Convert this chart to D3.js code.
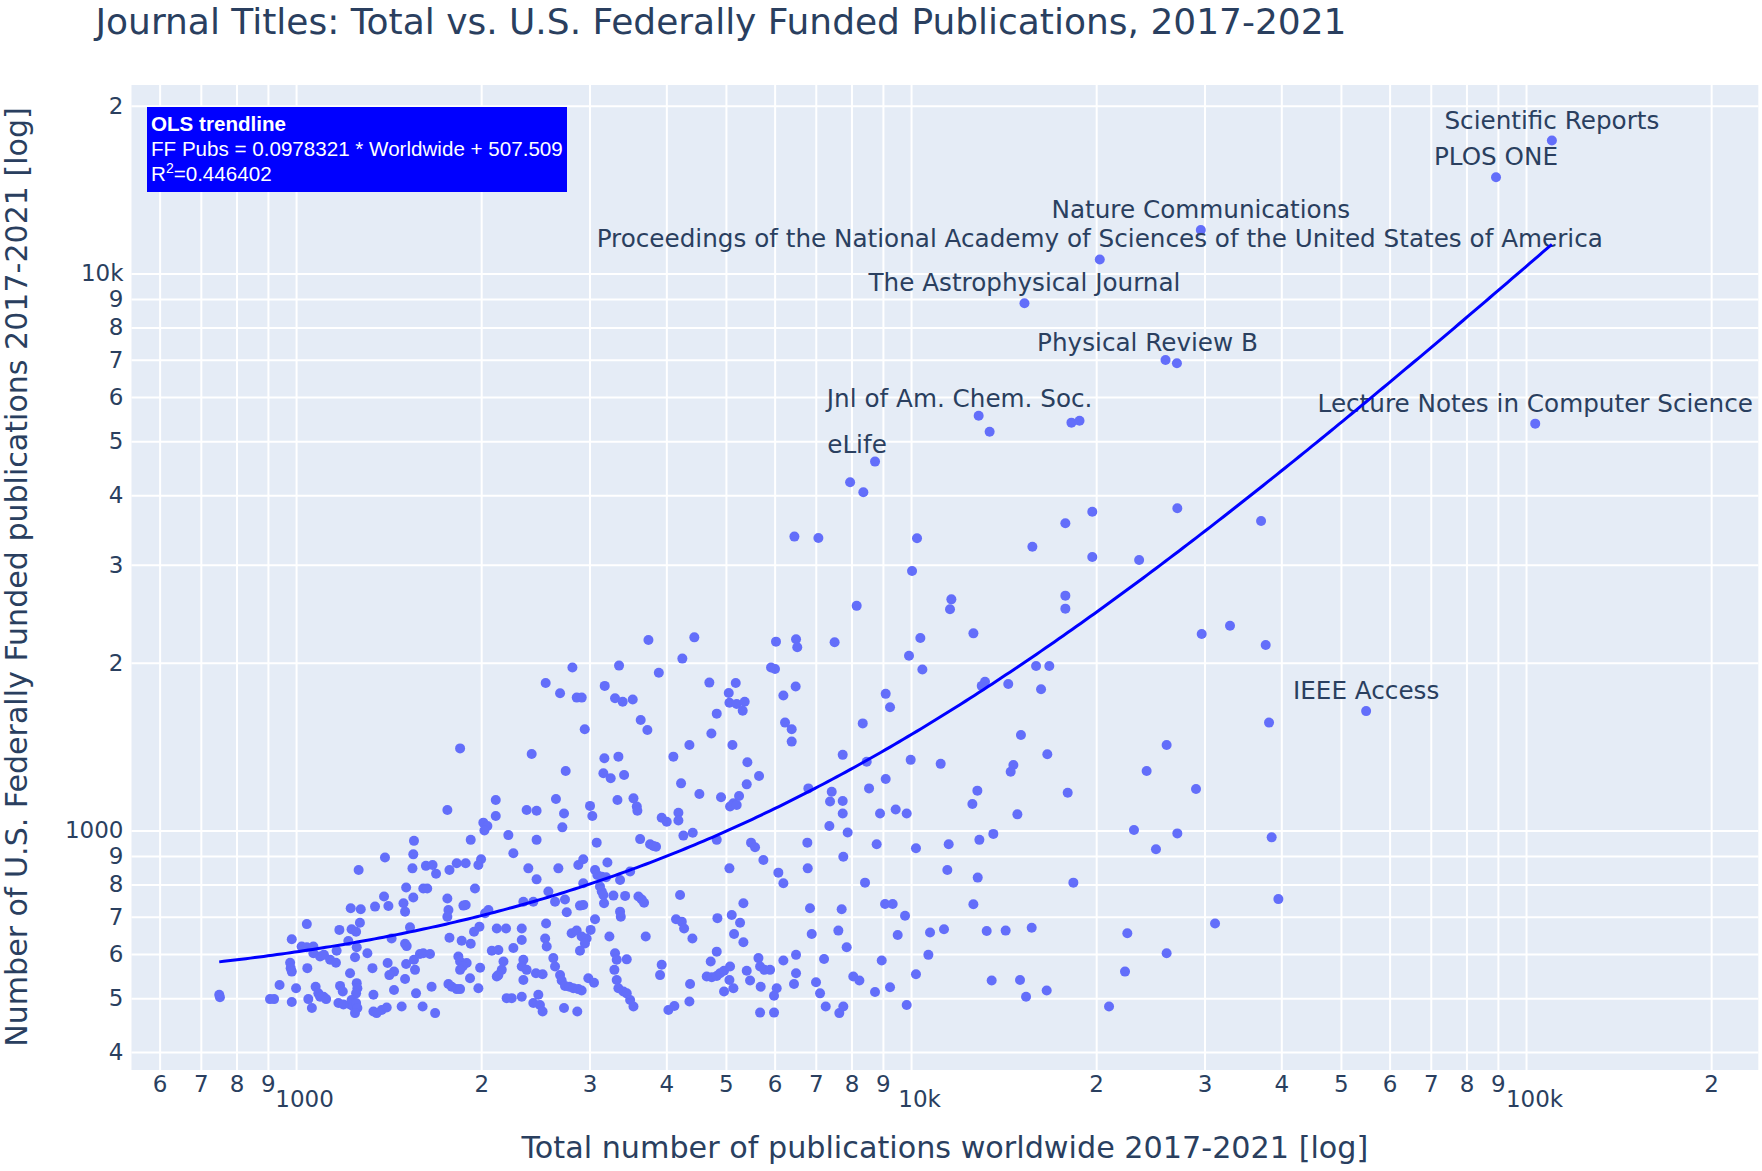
<!DOCTYPE html>
<html><head><meta charset="utf-8">
<script src="https://cdn.jsdelivr.net/npm/d3@7"></script>
<style>html,body{margin:0;padding:0;background:#fff}svg{display:block}</style>
</head><body>
<svg id="chart" width="1762" height="1171"></svg>
<script>
// ---------------- DATA ----------------
// Unlabelled journals: total worldwide publications and U.S. federally funded publications
const worldwideTotal = [
  7960,8364,6461,7068,8158,3741,4442,4247,6031,6501,
  6531,7511,2814,3351,3889,5920,6009,2546,2687,2860,
  2914,3176,3301,3397,3527,4699,5187,5053,5066,5206,
  5364,5324,4831,6200,6492,3634,3726,2947,4735,6239,
  6396,8345,
  10226,10037,11629,11570,10354,9924,10433,12630,15750,17820,
  19710,19710,17820,17820,23490,27100,37080,29690,33010,37730,
  15970,16780,13190,13030,14390,16270,9094,9243,15090,38200,
  27060,13420,18230,18790,
  1848,2112,1762,2112,2016,2047,2024,2214,2256,1555,
  1923,1551,1395,1999,1979,1264,1546,1626,1667,1689,
  1776,1825,1887,1510,1610,1634,1551,1954,1762,1887,
  1871,1390,1413,1344,1227,1274,1495,1504,1769,1762,
  2055,2029,1270,1041,1176,1231,1252,1532,1947,1987,
  2120,2195,984,1216,1430,1776,1859,1923,1021,1041,
  1067,1255,1504,1513,1067,1094,1110,1164,1136,1161,
  1306,1247,1555,1590,1610,1651,1409,1510,1836,1848,
  1894,1866,2081,2133,2256,2174,2160,2133,1992,978,
  980,984,1043,1331,1224,1443,1418,1561,1848,1918,
  2120,940,1000,1076,1087,1108,1179,1191,1255,1258,
  1252,1443,1504,1567,1661,1769,1791,1825,1848,1979,
  907,921,984,1047,1061,1094,1119,1172,1194,1224,
  1231,1239,1252,1258,1247,1336,1336,1352,1378,1404,
  1485,1606,1683,2200,2242,750,752,
  2416,2744,3172,3343,3160,3248,3415,4107,4361,5123,
  6396,5418,5660,5405,4227,4527,4909,5252,5142,5078,
  5206,6808,7742,8470,9986,8545,9094,7430,7384,7742,
  7742,8904,9441,9838,7365,7887,2646,2371,2461,2727,
  2710,3006,3032,3331,3537,3581,3589,3931,4006,4185,
  4185,4264,4416,2461,3082,3626,3764,3811,3849,4831,
  5493,5576,5753,6782,8792,10186,7760,6792,5066,6084,
  6200,2386,2461,2670,2877,2931,3063,3089,3141,3192,
  3208,3364,3493,2931,3120,3141,3160,2572,3281,3428,
  3603,3648,3680,4211,8417,2342,2431,2637,2737,2895,
  2931,2755,3168,3364,3373,3063,2550,5338,5110,5272,
  4843,4148,4238,4275,6850,7712,9072,9335,9777,2328,
  2806,2859,2913,2968,3013,2949,2895,3232,3703,4410,
  5155,5338,6894,7617,9512,7858,2328,2541,2556,2342,
  2328,2371,2620,2637,2455,2517,2687,2703,2737,2782,
  2824,2877,2913,2987,3051,3301,3322,3449,3293,3322,
  3343,3406,3449,3493,3537,3931,3907,4372,4361,4031,
  4122,4831,4723,4653,4741,4831,4891,4965,5078,4965,
  5142,5066,5405,5473,5647,5682,5774,5898,5695,6047,
  5987,6200,6501,6501,6452,5682,5987,7006,7112,7220,
  7265,7645,7760,8055,8241,8738,8960,9243,9838,10186,
  2342,2328,2431,2477,2492,2517,2727,2866,
  11173,14668,14521,16656,26036,24160,29064,12818,12581,17977,
  14890,23040,27100,38580,25018,11513,12915,13608,11455,12835,
  18362,12628,39560,10737,11313,13274,14250,15710,22474,31212,
  10670,26036,22279,13524,15038,15381,16617,20986
];
const federallyFunded = [
  4219,4047,3370,3351,2531,2198,2222,2035,2183,2204,
  2133,2177,1961,1977,1920,1961,1950,1840,1764,1732,
  1732,1818,1727,1703,1718,1843,1840,1766,1696,1687,
  1703,1641,1621,1747,1813,1579,1515,1520,1493,1562,
  1520,1557,
  3346,2924,2600,2495,2216,2060,1945,2259,3232,3560,
  3736,3097,2640,2502,3059,3788,3594,2253,2332,2153,
  1974,1974,1850,1818,1832,1793,1759,1664,1484,1562,
  6899,5200,5398,5442,
  1404,1134,1088,1062,1033,1019,1000,981,910,958,
  962,906,894,888,867,849,855,864,867,836,
  849,873,873,790,787,787,758,787,755,735,
  733,761,732,730,725,722,740,715,720,700,
  720,710,683,679,663,665,658,670,658,672,
  667,667,638,633,640,642,634,626,619,617,
  619,617,626,620,602,594,598,608,586,579,
  602,592,586,600,602,600,578,576,594,582,
  578,570,608,610,615,582,562,550,567,579,
  566,558,566,566,554,558,550,562,562,543,
  547,528,521,524,510,503,526,514,532,521,
  510,517,541,510,524,530,524,519,519,521,
  498,498,492,498,480,503,498,490,487,487,
  496,483,490,480,470,507,473,470,476,481,
  483,483,470,500,500,507,502,
  1372,1279,1348,1357,1267,1241,1258,1357,1424,1424,
  1444,1326,1253,1210,1215,1163,1147,1153,1119,1104,
  1111,1190,1367,1329,1339,1190,1237,1174,1127,1130,
  1073,1073,1091,1073,1019,992,1139,1088,1085,1073,
  1013,1107,1062,1134,1142,1104,1085,1054,1037,1076,
  1042,979,991,962,951,965,945,938,935,962,
  951,933,885,951,945,929,897,855,855,840,
  804,855,817,855,867,888,849,832,826,824,
  876,815,844,804,793,777,766,777,764,763,
  761,752,742,766,806,745,745,745,752,733,
  735,713,740,715,700,693,681,740,705,683,
  696,693,686,667,725,722,738,738,703,667,
  654,661,645,640,663,627,608,645,645,640,
  652,630,652,661,649,617,636,640,619,586,
  570,562,590,570,554,552,550,538,526,524,
  521,519,516,543,533,602,586,587,562,539,
  521,514,510,496,483,574,550,530,493,476,
  484,606,582,547,545,548,554,560,570,514,
  521,539,560,538,590,570,562,562,524,521,
  505,584,598,554,530,471,471,534,510,588,
  483,470,483,547,538,513,584,523,486,552,
  539,503,490,507,486,473,480,473,
  1317,1311,1275,1370,1424,1279,1187,1179,1116,1169,
  1069,1002,988,972,925,945,962,986,849,823,
  806,737,753,656,665,660,661,669,654,681,
  598,602,558,538,539,503,516,483
];
// Labelled journals
const labeledTitles = [
  "Scientific Reports","PLOS ONE","Nature Communications",
  "Proceedings of the National Academy of Sciences of the United States of America",
  "The Astrophysical Journal","Physical Review B","Jnl of Am. Chem. Soc.","eLife",
  "Lecture Notes in Computer Science","IEEE Access"
];
const labeledTotal   = [110160, 89370, 29590, 20270, 15290, 25930, 12880, 8738, 103500, 54950];
const labeledFederal = [ 17330, 14890, 11970, 10600,  8843,  6993,  5556, 4595,   5376,  1638];

// OLS trendline (as printed in the chart)
const olsSlope = 0.0978321;
const olsIntercept = 507.509;
const olsR2 = "0.446402";

// Tick values and labels
const xTickValues = [600,700,800,900,1000,2000,3000,4000,5000,6000,7000,8000,9000,10000,
                     20000,30000,40000,50000,60000,70000,80000,90000,100000,200000];
const xTickLabels = ["6","7","8","9","1000","2","3","4","5","6","7","8","9","10k",
                     "2","3","4","5","6","7","8","9","100k","2"];
const yTickValues = [400,500,600,700,800,900,1000,2000,3000,4000,5000,6000,7000,8000,9000,10000,20000];
const yTickLabels = ["4","5","6","7","8","9","1000","2","3","4","5","6","7","8","9","10k","2"];

const chartTitle = "Journal Titles: Total vs. U.S. Federally Funded Publications, 2017-2021";
const xTitle = "Total number of publications worldwide 2017-2021 [log]";
const yTitle = "Number of U.S. Federally Funded publications 2017-2021 [log]";

// ---------------- LAYOUT ----------------
const W = 1762, H = 1171;
const m = {left: 131.5, right: 1758.3, top: 85, bottom: 1070};
const plotW = m.right - m.left, plotH = m.bottom - m.top;
const FONT = "'DejaVu Sans', Verdana, sans-serif";
const TXT = "#2a3f5f";
const labelShift = {"Physical Review B": [-18, 3], "Jnl of Am. Chem. Soc.": [-19, 3], "eLife": [-18, 3]};

const x = d3.scaleLog().domain([540, 238600]).range([m.left, m.right]);
const y = d3.scaleLog().domain([371.5, 21800]).range([m.bottom, m.top]);

const svg = d3.select("#chart");
svg.append("rect").attr("width", W).attr("height", H).attr("fill", "#fff");
svg.append("rect").attr("x", m.left).attr("y", m.top).attr("width", plotW).attr("height", plotH).attr("fill", "#E5ECF6");

// grid
const gx = svg.append("g").attr("transform", `translate(0,${m.bottom})`)
  .call(d3.axisBottom(x).tickValues(xTickValues).tickSize(-plotH).tickFormat(""));
gx.select(".domain").remove();
gx.selectAll("line").attr("stroke", "#fff").attr("stroke-width", 2);
const gy = svg.append("g").attr("transform", `translate(${m.left},0)`)
  .call(d3.axisLeft(y).tickValues(yTickValues).tickSize(-plotW).tickFormat(""));
gy.select(".domain").remove();
gy.selectAll("line").attr("stroke", "#fff").attr("stroke-width", 2);

// tick labels
const ax = svg.append("g").attr("transform", `translate(0,${m.bottom})`)
  .call(d3.axisBottom(x).tickValues(xTickValues).tickSize(0).tickPadding(6).tickFormat((d, i) => xTickLabels[i]));
ax.select(".domain").remove();
ax.selectAll("text").attr("font-family", FONT).attr("font-size", 23).attr("fill", TXT)
  .filter((d, i) => xTickLabels[i].length > 1).attr("dx", 8).attr("y", 21);
const ay = svg.append("g").attr("transform", `translate(${m.left},0)`)
  .call(d3.axisLeft(y).tickValues(yTickValues).tickSize(0).tickPadding(8).tickFormat((d, i) => yTickLabels[i]));
ay.select(".domain").remove();
ay.selectAll("text").attr("font-family", FONT).attr("font-size", 23).attr("fill", TXT);

// points
const pts = worldwideTotal.map((v, i) => [v, federallyFunded[i]])
  .concat(labeledTotal.map((v, i) => [v, labeledFederal[i]]));
svg.append("g").selectAll("circle").data(pts).join("circle")
  .attr("cx", d => x(d[0])).attr("cy", d => y(d[1])).attr("r", 5).attr("fill", "#636EFA");

// labels
function fitSize(sel, target) {
  const len = sel.node().getComputedTextLength();
  const fs = parseFloat(sel.attr("font-size"));
  sel.attr("font-size", fs * target / len);
  return fs * target / len;
}
const lg = svg.append("g");
const probe = lg.append("text").attr("font-family", FONT).attr("font-size", 24).text(labeledTitles[3]);
const labelSize = fitSize(probe, 1007);
probe.remove();
lg.selectAll("text").data(labeledTitles).join("text")
  .attr("x", (d, i) => x(labeledTotal[i]) + (labelShift[d] ? labelShift[d][0] : 0))
  .attr("y", (d, i) => y(labeledFederal[i]) - 12 + (labelShift[d] ? labelShift[d][1] : 0))
  .attr("text-anchor", "middle").attr("font-family", FONT).attr("font-size", labelSize)
  .attr("fill", TXT).text(d => d);

// OLS trendline
const allX = pts.map(d => d[0]);
const x0 = d3.min(allX), x1 = d3.max(allX);
const trend = d3.range(0, 301).map(k => {
  const xv = Math.pow(10, Math.log10(x0) + (Math.log10(x1) - Math.log10(x0)) * k / 300);
  return [xv, olsSlope * xv + olsIntercept];
});
svg.append("path").datum(trend)
  .attr("d", d3.line().x(d => x(d[0])).y(d => y(d[1])))
  .attr("fill", "none").attr("stroke", "#0000FF").attr("stroke-width", 3);

// hover box with regression info
const hb = svg.append("g");
hb.append("rect").attr("x", 147).attr("y", 107).attr("width", 420).attr("height", 85).attr("fill", "#0000FF");
const HF = "'Liberation Sans', Arial, sans-serif";
hb.append("text").attr("x", 151).attr("y", 131).attr("font-family", HF).attr("font-size", 20.6)
  .attr("font-weight", "bold").attr("fill", "#fff").text("OLS trendline");
hb.append("text").attr("x", 151).attr("y", 156).attr("font-family", HF).attr("font-size", 20.6)
  .attr("fill", "#fff").text(`FF Pubs = ${olsSlope} * Worldwide + ${olsIntercept}`);
const r2 = hb.append("text").attr("x", 151).attr("y", 181).attr("font-family", HF).attr("font-size", 20.6).attr("fill", "#fff");
r2.append("tspan").text("R");
r2.append("tspan").attr("font-size", 14).attr("dy", -8).text("2");
r2.append("tspan").attr("dy", 8).text("=" + olsR2);

// titles
const t = svg.append("text").attr("x", 95.5).attr("y", 34).attr("font-family", FONT).attr("font-size", 34)
  .attr("fill", TXT).text(chartTitle);
fitSize(t, 1251);
const xt = svg.append("text").attr("x", (m.left + m.right) / 2).attr("y", 1158).attr("text-anchor", "middle")
  .attr("font-family", FONT).attr("font-size", 28).attr("fill", TXT).text(xTitle);
fitSize(xt, 847);
const yt = svg.append("text").attr("transform", `translate(27,577) rotate(-90)`).attr("text-anchor", "middle")
  .attr("font-family", FONT).attr("font-size", 28).attr("fill", TXT).text(yTitle);
fitSize(yt, 940);
</script>
</body></html>
